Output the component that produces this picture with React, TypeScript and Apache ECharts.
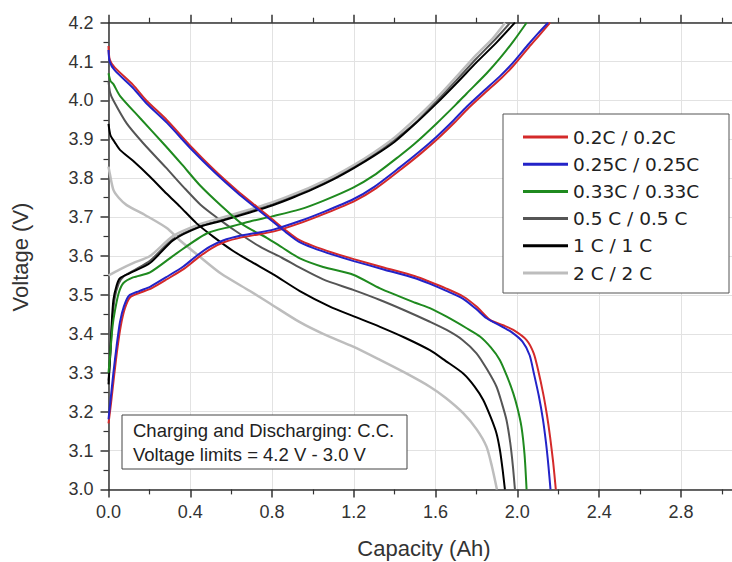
import React, { useEffect, useRef } from "react";
import * as echarts from "echarts";

type Pt = [number, number];

const RATES = ["0.2C / 0.2C", "0.25C / 0.25C", "0.33C / 0.33C", "0.5 C / 0.5 C", "1 C / 1 C", "2 C / 2 C"];
const COLORS = ["#d42a2a", "#2323c8", "#1f8a1f", "#555555", "#000000", "#bdbdbd"];
const WIDTHS = [2, 2, 2, 2, 2, 2.5];

const X_TICKS = { min: 0, max: 3.2, interval: 0.4 };
const Y_TICKS = { min: 3.0, max: 4.2, interval: 0.1 };

// 0.2C
const charge02: Pt[] = [[0,3.17],[0.012,3.22],[0.027,3.29],[0.043,3.36],[0.06,3.42],[0.08,3.465],[0.106,3.494],[0.156,3.506],[0.21,3.517],[0.288,3.541],[0.374,3.569],[0.438,3.596],[0.504,3.62],[0.568,3.636],[0.651,3.648],[0.738,3.656],[0.814,3.664],[0.944,3.686],[1.058,3.709],[1.205,3.742],[1.308,3.774],[1.433,3.824],[1.528,3.864],[1.613,3.903],[1.694,3.944],[1.76,3.98],[1.838,4.018],[1.922,4.058],[1.978,4.088],[2.058,4.138],[2.108,4.168],[2.16,4.2]];
const discharge02: Pt[] = [[0,4.14],[0.006,4.105],[0.03,4.085],[0.12,4.04],[0.185,4.0],[0.285,3.95],[0.41,3.878],[0.52,3.82],[0.63,3.768],[0.73,3.725],[0.8,3.695],[0.87,3.665],[0.93,3.642],[1.0,3.626],[1.1,3.608],[1.2,3.592],[1.35,3.57],[1.5,3.548],[1.57,3.534],[1.65,3.517],[1.735,3.496],[1.8,3.47],[1.866,3.436],[1.93,3.422],[1.98,3.41],[2.045,3.384],[2.08,3.35],[2.1,3.31],[2.126,3.247],[2.145,3.19],[2.16,3.135],[2.175,3.07],[2.188,3.0]];
// 0.25C
const charge025: Pt[] = [[0,3.18],[0.01,3.23],[0.024,3.3],[0.04,3.37],[0.056,3.43],[0.075,3.47],[0.1,3.498],[0.15,3.51],[0.203,3.521],[0.28,3.545],[0.366,3.573],[0.43,3.6],[0.496,3.624],[0.56,3.64],[0.643,3.652],[0.73,3.66],[0.806,3.668],[0.936,3.69],[1.05,3.713],[1.197,3.746],[1.3,3.778],[1.425,3.828],[1.52,3.868],[1.605,3.907],[1.686,3.948],[1.752,3.984],[1.83,4.022],[1.914,4.062],[1.97,4.092],[2.05,4.142],[2.1,4.172],[2.15,4.2]];
const discharge025: Pt[] = [[0,4.13],[0.006,4.1],[0.03,4.078],[0.12,4.032],[0.185,3.993],[0.285,3.943],[0.41,3.872],[0.52,3.815],[0.63,3.763],[0.73,3.72],[0.8,3.69],[0.87,3.66],[0.93,3.637],[1.0,3.621],[1.1,3.603],[1.2,3.587],[1.35,3.565],[1.5,3.543],[1.57,3.529],[1.65,3.511],[1.735,3.49],[1.8,3.463],[1.85,3.44],[1.92,3.42],[1.97,3.405],[2.025,3.38],[2.06,3.345],[2.08,3.3],[2.105,3.24],[2.125,3.18],[2.14,3.12],[2.152,3.06],[2.162,3.0]];
// 0.33C
const charge033: Pt[] = [[0,3.3],[0.007,3.34],[0.02,3.42],[0.032,3.461],[0.05,3.505],[0.072,3.53],[0.12,3.545],[0.203,3.558],[0.333,3.607],[0.48,3.658],[0.6,3.676],[0.692,3.689],[0.8,3.702],[0.936,3.72],[1.05,3.742],[1.197,3.776],[1.3,3.808],[1.425,3.858],[1.5,3.89],[1.605,3.941],[1.7,3.99],[1.752,4.018],[1.85,4.07],[1.914,4.108],[1.98,4.152],[2.045,4.2]];
const discharge033: Pt[] = [[0,4.07],[0.01,4.05],[0.024,4.042],[0.056,4.012],[0.154,3.955],[0.276,3.885],[0.36,3.835],[0.447,3.782],[0.55,3.73],[0.659,3.68],[0.774,3.647],[0.85,3.622],[0.936,3.594],[1.05,3.572],[1.197,3.552],[1.328,3.517],[1.5,3.48],[1.572,3.466],[1.654,3.444],[1.75,3.415],[1.817,3.393],[1.87,3.365],[1.914,3.333],[1.95,3.29],[1.98,3.247],[2.0,3.21],[2.02,3.161],[2.035,3.09],[2.045,3.0]];
// 0.5C
const charge05: Pt[] = [[0,3.28],[0.008,3.34],[0.018,3.43],[0.03,3.49],[0.05,3.53],[0.075,3.548],[0.12,3.562],[0.203,3.588],[0.317,3.644],[0.447,3.677],[0.55,3.692],[0.692,3.716],[0.8,3.733],[0.9,3.753],[1.0,3.776],[1.1,3.801],[1.2,3.83],[1.3,3.862],[1.4,3.899],[1.5,3.942],[1.6,3.996],[1.7,4.051],[1.8,4.108],[1.9,4.162],[1.965,4.2]];
const discharge05: Pt[] = [[0,4.05],[0.008,4.02],[0.024,4.0],[0.089,3.941],[0.17,3.89],[0.28,3.828],[0.366,3.778],[0.45,3.732],[0.54,3.695],[0.62,3.665],[0.741,3.624],[0.85,3.595],[0.936,3.57],[1.05,3.54],[1.197,3.513],[1.328,3.487],[1.45,3.46],[1.572,3.431],[1.654,3.41],[1.73,3.385],[1.8,3.35],[1.85,3.31],[1.898,3.264],[1.925,3.22],[1.947,3.178],[1.965,3.12],[1.978,3.06],[1.988,3.0]];
// 1C
const charge1: Pt[] = [[0,3.27],[0.007,3.33],[0.015,3.42],[0.024,3.487],[0.04,3.525],[0.056,3.543],[0.1,3.555],[0.203,3.582],[0.317,3.641],[0.447,3.675],[0.55,3.69],[0.692,3.712],[0.8,3.73],[0.9,3.75],[1.0,3.772],[1.1,3.797],[1.2,3.826],[1.3,3.858],[1.4,3.894],[1.5,3.94],[1.6,3.99],[1.7,4.043],[1.8,4.098],[1.9,4.15],[1.988,4.2]];
const discharge1: Pt[] = [[0,3.94],[0.01,3.91],[0.03,3.893],[0.056,3.873],[0.12,3.845],[0.203,3.804],[0.285,3.76],[0.35,3.727],[0.431,3.684],[0.512,3.65],[0.61,3.613],[0.7,3.585],[0.806,3.553],[0.936,3.51],[1.083,3.47],[1.2,3.445],[1.328,3.418],[1.45,3.39],[1.572,3.358],[1.65,3.33],[1.735,3.298],[1.79,3.265],[1.833,3.23],[1.87,3.185],[1.898,3.144],[1.915,3.1],[1.928,3.05],[1.939,3.0]];
// 2C
const charge2: Pt[] = [[0,3.55],[0.056,3.566],[0.12,3.582],[0.203,3.6],[0.317,3.652],[0.447,3.682],[0.55,3.698],[0.692,3.72],[0.8,3.738],[0.9,3.758],[1.0,3.78],[1.1,3.805],[1.2,3.834],[1.3,3.867],[1.4,3.905],[1.5,3.952],[1.6,4.003],[1.7,4.06],[1.8,4.118],[1.88,4.16],[1.94,4.2]];
const discharge2: Pt[] = [[0,3.83],[0.007,3.81],[0.024,3.77],[0.05,3.75],[0.089,3.731],[0.18,3.705],[0.285,3.672],[0.35,3.64],[0.447,3.598],[0.55,3.555],[0.692,3.51],[0.79,3.478],[0.936,3.43],[1.05,3.4],[1.197,3.367],[1.328,3.333],[1.45,3.3],[1.572,3.264],[1.65,3.235],[1.735,3.196],[1.8,3.155],[1.849,3.11],[1.875,3.06],[1.9,3.0]];

const CURVES: [Pt[], Pt[]][] = [
  [charge02, discharge02],
  [charge025, discharge025],
  [charge033, discharge033],
  [charge05, discharge05],
  [charge1, discharge1],
  [charge2, discharge2],
];
// drawing order (bottom to top)
const DRAW_ORDER = [3, 5, 4, 2, 0, 1];

const NOTE_LINES = ["Charging and Discharging: C.C.", "Voltage limits = 4.2 V - 3.0 V"];
const X_NAME = "Capacity (Ah)";
const Y_NAME = "Voltage (V)";

export default function App() {
  const ref = useRef<HTMLDivElement>(null);
  useEffect(() => {
    if (!ref.current) return;
    const chart = echarts.init(ref.current, undefined, { renderer: "svg" });
    const series: any[] = [];
    DRAW_ORDER.forEach((i) => {
      CURVES[i].forEach((data) => {
        series.push({
          type: "line",
          name: RATES[i],
          data,
          showSymbol: false,
          symbol: "none",
          silent: true,
          smooth: 0.25,
          lineStyle: { color: COLORS[i], width: WIDTHS[i] },
          itemStyle: { color: COLORS[i] },
          z: 2,
        });
      });
    });
    const axisCommon = {
      type: "value",
      axisLine: { show: true, lineStyle: { color: "#333", width: 1.5 } },
      axisTick: { show: true, inside: false, length: 8, lineStyle: { color: "#333", width: 1.5 } },
      minorTick: { show: true, splitNumber: 2, length: 5, lineStyle: { color: "#333", width: 1.2 } },
    };
    const labelFont = { fontFamily: "Liberation Sans", fontSize: 18, color: "#333" };
    chart.setOption({
      animation: false,
      backgroundColor: "#ffffff",
      grid: { left: 108.5, top: 22.7, right: -30.7, bottom: 72.6, containLabel: false, outerBoundsMode: "none" },
      xAxis: [
        {
          ...axisCommon,
          position: "bottom",
          min: X_TICKS.min,
          max: X_TICKS.max,
          interval: X_TICKS.interval,
          axisLabel: { ...labelFont, margin: 14, showMaxLabel: false, formatter: (v: number) => v.toFixed(1) },
          splitLine: { show: true, lineStyle: { color: "#e2e2e2", width: 1 } },
        },
        {
          ...axisCommon,
          position: "top",
          min: X_TICKS.min,
          max: X_TICKS.max,
          interval: X_TICKS.interval,
          axisLabel: { show: false },
          splitLine: { show: false },
        },
      ],
      yAxis: {
        ...axisCommon,
        min: Y_TICKS.min,
        max: Y_TICKS.max,
        interval: Y_TICKS.interval,
        axisLabel: { ...labelFont, margin: 15, formatter: (v: number) => v.toFixed(1) },
        splitLine: { show: true, lineStyle: { color: "#e2e2e2", width: 1 } },
      },
      legend: {
        data: RATES,
        orient: "vertical",
        left: 523,
        top: 127,
        padding: 0,
        itemGap: 7.2,
        itemWidth: 45,
        itemHeight: 3,
        icon: "rect",
        selectedMode: false,
        textStyle: { fontFamily: "DejaVu Sans", fontSize: 18.5, color: "#222", lineHeight: 20 },
        z: 6,
      },
      graphic: [
        {
          type: "rect",
          z: 5,
          shape: { x: 503, y: 114, width: 226, height: 179 },
          style: { fill: "#ffffff", stroke: "#555", lineWidth: 1 },
        },
        {
          type: "rect",
          z: 5,
          shape: { x: 122, y: 415, width: 285, height: 54 },
          style: { fill: "#ffffff", stroke: "#444", lineWidth: 1 },
        },
        ...NOTE_LINES.map((t, k) => ({
          type: "text",
          z: 6,
          x: 133,
          y: 430 + k * 24,
          style: {
            text: t,
            fontFamily: "Liberation Sans",
            fontSize: 18.5,
            fill: "#222",
            align: "left",
            textAlign: "left",
            verticalAlign: "middle",
            textVerticalAlign: "middle",
          },
        })),
        {
          type: "text",
          z: 6,
          x: 424,
          y: 548,
          style: {
            text: X_NAME,
            fontFamily: "Liberation Sans",
            fontSize: 22,
            fill: "#333",
            align: "center",
            textAlign: "center",
            verticalAlign: "middle",
            textVerticalAlign: "middle",
          },
        },
        {
          type: "text",
          z: 6,
          x: 20,
          y: 257,
          rotation: Math.PI / 2,
          style: {
            text: Y_NAME,
            fontFamily: "Liberation Sans",
            fontSize: 22,
            fill: "#333",
            align: "center",
            textAlign: "center",
            verticalAlign: "middle",
            textVerticalAlign: "middle",
          },
        },
      ],
      series,
    });
    return () => chart.dispose();
  }, []);
  return <div ref={ref} style={{ position: "fixed", left: 0, top: 0, width: 732, height: 562 }} />;
}
